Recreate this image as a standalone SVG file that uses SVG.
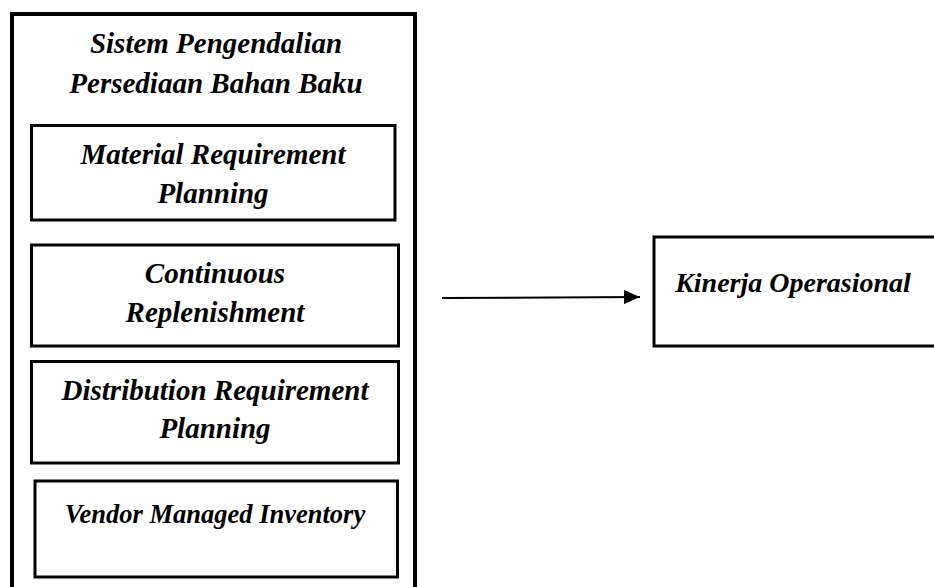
<svg xmlns="http://www.w3.org/2000/svg" width="934" height="587" viewBox="0 0 934 587">
<style>
  .box { fill: #ffffff; stroke: #000000; stroke-width: 3; }
  .outer { fill: #ffffff; stroke: #000000; stroke-width: 4; }
  .t { font-family: "Liberation Serif", "Times New Roman", serif; font-weight: bold; font-style: italic; font-size: 29px; fill: #000000; text-anchor: middle; }
  .conn { stroke: #000000; stroke-width: 2; fill: none; }
</style>
<defs>
  <marker id="arrow" viewBox="0 0 16 14" refX="16" refY="7" markerWidth="16" markerHeight="14" markerUnits="userSpaceOnUse" orient="auto">
    <path d="M0,0 L16,7 L0,14 Z" fill="#000000"/>
  </marker>
</defs>
<rect width="934" height="587" fill="#ffffff"/>
<g id="sistem">
  <rect class="outer" x="12" y="14" width="403" height="600"/>
  <text class="t" x="216" y="53">Sistem Pengendalian</text>
  <text class="t" x="216" y="93">Persediaan Bahan Baku</text>
</g>
<g id="mrp">
  <rect class="box" x="31.5" y="125.5" width="363.5" height="94.5"/>
  <text class="t" x="213" y="164">Material Requirement</text>
  <text class="t" x="213" y="203">Planning</text>
</g>
<g id="cr">
  <rect class="box" x="31.5" y="245" width="367" height="101"/>
  <text class="t" x="215" y="283">Continuous</text>
  <text class="t" x="215" y="322">Replenishment</text>
</g>
<g id="drp">
  <rect class="box" x="31.5" y="361.5" width="367" height="101.5"/>
  <text class="t" x="215" y="400">Distribution Requirement</text>
  <text class="t" x="215" y="438">Planning</text>
</g>
<g id="vmi">
  <rect class="box" x="35" y="481" width="362.5" height="96"/>
  <text class="t" x="215" y="523" style="font-size:26.5px">Vendor Managed Inventory</text>
</g>
<g id="kinerja">
  <rect class="box" x="654" y="237" width="300" height="109"/>
  <text class="t" x="793" y="292" style="font-size:28px">Kinerja Operasional</text>
</g>
<g id="connectors">
  <line class="conn" x1="442" y1="298" x2="640" y2="297" marker-end="url(#arrow)"/>
</g>
</svg>
